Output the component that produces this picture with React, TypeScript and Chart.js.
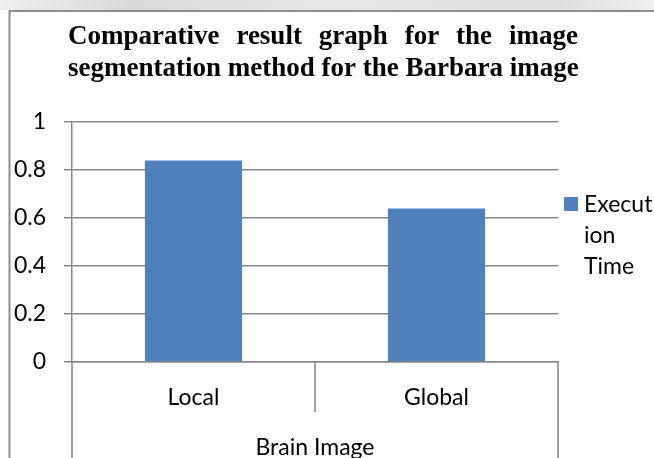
import React, { useEffect, useRef } from 'react';
import { Chart, registerables } from 'chart.js';

Chart.register(...registerables);

// ---- data ----
const categories = ['Local', 'Global'];
const groupLabel = 'Brain Image';
const seriesLabel = 'Execution Time';
const legendLines = ['Execut', 'ion', 'Time'];
const executionTime = [0.84, 0.64];
const titleLines = [
  'Comparative result graph for the image',
  'segmentation method for the Barbara image',
];
const yMin = 0;
const yMax = 1;
const yStep = 0.2;

// ---- styles ----
const W = 654;
const H = 480;
const FONT = 'Lato';
const FS = 23;
const TITLE_FONT = 'bold 27px "Liberation Serif"';
const GRID = '#878787';
const BAR = '#4F81BD';

const backdrop = {
  id: 'backdrop',
  beforeDraw(chart: any) {
    const ctx = chart.ctx;
    ctx.save();
    ctx.fillStyle = '#ffffff';
    ctx.fillRect(0, 0, W, H);
    const g = ctx.createLinearGradient(0, 0, W, 0);
    g.addColorStop(0, '#efefef');
    g.addColorStop(0.2, '#d9d9d9');
    g.addColorStop(0.5, '#e6e6e6');
    g.addColorStop(0.85, '#dedede');
    g.addColorStop(1, '#f0f0f0');
    ctx.fillStyle = g;
    ctx.fillRect(0, 0, W, 10);
    ctx.strokeStyle = '#8c8c8c';
    ctx.lineWidth = 2;
    ctx.strokeRect(9.5, 11, W + 40, H + 40);
    ctx.restore();
  },
};

const titlePlugin = {
  id: 'justTitle',
  afterDraw(chart: any) {
    const ctx = chart.ctx;
    ctx.save();
    ctx.fillStyle = '#000';
    ctx.font = TITLE_FONT;
    ctx.textBaseline = 'alphabetic';
    ctx.textAlign = 'left';
    const left = 68;
    const right = 578;
    const baselines = [44, 76];
    titleLines.forEach((line, i) => {
      const words = line.split(' ');
      if (i === 0) {
        const widths = words.map((w) => ctx.measureText(w).width);
        const sum = widths.reduce((a, b) => a + b, 0);
        const gap = (right - left - sum) / (words.length - 1);
        let x = left;
        words.forEach((w, k) => {
          ctx.fillText(w, x, baselines[i]);
          x += widths[k] + gap;
        });
      } else {
        ctx.fillText(line, left, baselines[i]);
      }
    });
    ctx.restore();
  },
};

const separators = {
  id: 'separators',
  afterDraw(chart: any) {
    const ctx = chart.ctx;
    const xs = chart.scales.x;
    const n = categories.length;
    const step = n > 1 ? xs.getPixelForValue(1) - xs.getPixelForValue(0) : chart.chartArea.width;
    const base = chart.chartArea.bottom;
    ctx.save();
    ctx.strokeStyle = GRID;
    ctx.lineWidth = 1.5;
    for (let i = 0; i <= n; i++) {
      const x = xs.getPixelForValue(Math.min(i, n - 1)) + (i < n ? -step / 2 : step / 2);
      const outer = i === 0 || i === n;
      ctx.beginPath();
      ctx.moveTo(x, base);
      ctx.lineTo(x, outer ? H : base + 50);
      ctx.stroke();
    }
    ctx.restore();
  },
};

const legendPlugin = {
  id: 'wrappedLegend',
  afterDraw(chart: any) {
    const ctx = chart.ctx;
    const ds = chart.data.datasets[0];
    ctx.save();
    ctx.fillStyle = ds.backgroundColor;
    ctx.fillRect(564, 197, 14, 14);
    ctx.fillStyle = '#000';
    ctx.font = `${FS}px ${FONT}`;
    ctx.textBaseline = 'alphabetic';
    ctx.textAlign = 'left';
    legendLines.forEach((t, i) => ctx.fillText(t, 584, 212 + i * 31));
    ctx.restore();
  },
};

export default function App() {
  const ref = useRef<HTMLCanvasElement | null>(null);
  useEffect(() => {
    let chart: Chart | null = null;
    let cancelled = false;
    const make = () => {
      if (cancelled || !ref.current) return;
      chart = new Chart(ref.current, {
        type: 'bar',
        data: {
          labels: categories,
          datasets: [
            {
              label: seriesLabel,
              data: executionTime,
              backgroundColor: BAR,
              borderWidth: 0,
              barPercentage: 0.4,
              categoryPercentage: 1,
            },
          ],
        },
        options: {
          responsive: false,
          animation: false,
          devicePixelRatio: 1,
          layout: { padding: { top: 122, right: 96, left: 0, bottom: 0 } },
          plugins: {
            legend: { display: false },
            title: { display: false },
            tooltip: { enabled: false },
          },
          scales: {
            x: {
              offset: true,
              grid: { display: false, offset: true },
              border: { display: true, color: GRID, width: 1.5 },
              ticks: {
                font: { family: FONT, size: FS },
                color: '#000',
                padding: 14,
                maxRotation: 0,
              },
              title: {
                display: true,
                text: groupLabel,
                color: '#000',
                font: { family: FONT, size: FS },
                padding: { top: 0, bottom: 19 },
              },
              afterFit(scale: any) {
                scale.height = H - 362;
              },
            },
            y: {
              min: yMin,
              max: yMax,
              ticks: {
                stepSize: yStep,
                font: { family: FONT, size: FS },
                color: '#000',
                padding: 18,
                callback: (v: any) => String(Math.round(Number(v) * 10) / 10),
              },
              grid: { color: GRID, lineWidth: 1.5, tickLength: 8, drawTicks: true },
              border: { display: true, color: GRID, width: 1.5 },
              afterFit(scale: any) {
                scale.width = 72;
              },
            },
          },
        },
        plugins: [backdrop, separators, legendPlugin, titlePlugin],
      });
    };
    const fontsReady = (document as any).fonts
      ? Promise.all([
          (document as any).fonts.load(`${FS}px ${FONT}`),
          (document as any).fonts.load(TITLE_FONT),
        ]).catch(() => null)
      : Promise.resolve(null);
    fontsReady.then(make);
    return () => {
      cancelled = true;
      if (chart) chart.destroy();
    };
  }, []);
  return (
    <div
      style={{
        position: 'fixed',
        left: 0,
        top: 0,
        width: W,
        height: 458,
        overflow: 'hidden',
        background: '#fff',
      }}
    >
      <canvas ref={ref} width={W} height={H} style={{ display: 'block', width: W, height: H }} />
    </div>
  );
}
